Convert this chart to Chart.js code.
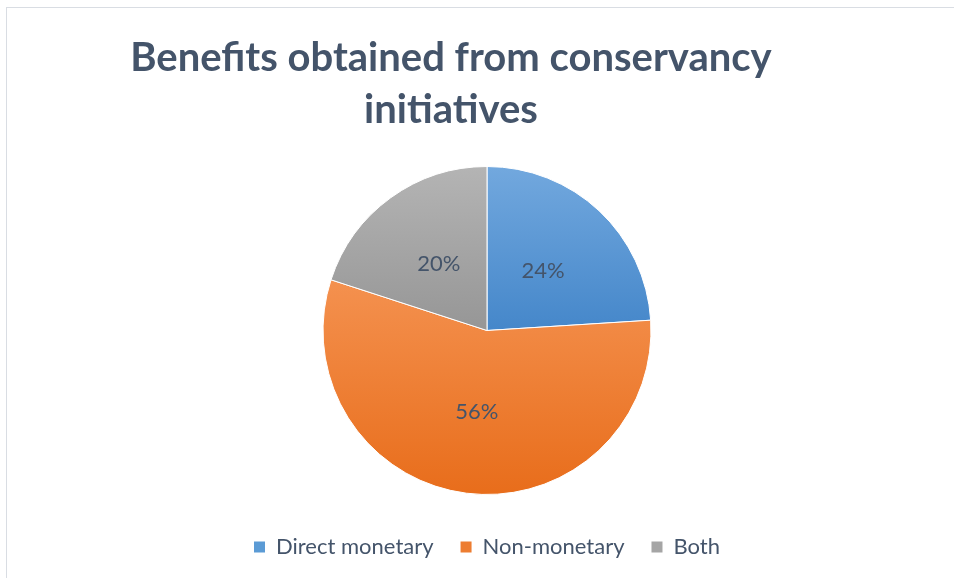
<!DOCTYPE html>
<html>
<head>
<meta charset="utf-8">
<script src="https://cdn.jsdelivr.net/npm/chart.js@4/dist/chart.umd.min.js"></script>
<style>
  html, body { margin: 0; padding: 0; background: #ffffff; }
  #wrap { position: relative; width: 954px; height: 578px; overflow: hidden; background: #fff; }
  #frame { position: absolute; left: 6px; top: 7px; width: 960px; height: 600px; border-left: 1px solid #d9dde3; border-top: 1px solid #d9dde3; box-sizing: border-box; }
  #title { position: absolute; left: 101px; width: 700px; top: 30px; text-align: center;
           font-family: Lato, "Open Sans", sans-serif; font-weight: bold; font-size: 40px; line-height: 52px; color: #44546A; }
  #c { position: absolute; left: 0; top: 0; }
</style>
</head>
<body>
<div id="wrap">
  <div id="frame"></div>
  <canvas id="c" width="954" height="578"></canvas>
  <div id="title">Benefits obtained from conservancy<br>initiatives</div>
</div>
<script>
const categories = ["Direct monetary", "Non-monetary", "Both"];
const shares = [24, 56, 20];
const labelsText = ["24%", "56%", "20%"];

const topColors = ["#72A8DE", "#F4914F", "#B4B4B4"];
const bottomColors = ["#4587CA", "#E86D1B", "#969696"];
const solidColors = ["#5B9BD5", "#ED7D31", "#A5A5A5"];
const RADIUS = 164;

function sliceGradient(ctx) {
  const chart = ctx.chart;
  const i = ctx.dataIndex;
  const area = chart.chartArea;
  if (!area || i === undefined) return solidColors[i] || "#999";
  const data = chart.data.datasets[0].data;
  const total = data.reduce((a, b) => a + b, 0);
  let before = 0;
  for (let k = 0; k < i; k++) before += data[k];
  const a0 = -Math.PI / 2 + before / total * 2 * Math.PI;
  const a1 = a0 + data[i] / total * 2 * Math.PI;
  const cy = (area.top + area.bottom) / 2;
  let ys = [cy, cy + RADIUS * Math.sin(a0), cy + RADIUS * Math.sin(a1)];
  for (let k = -1; k <= 4; k++) {
    const a = -Math.PI / 2 + k * Math.PI;
    if (a >= a0 && a <= a1) ys.push(cy + RADIUS * Math.sin(a));
  }
  const y0 = Math.min(...ys), y1 = Math.max(...ys);
  const g = chart.ctx.createLinearGradient(0, y0, 0, y1);
  g.addColorStop(0, topColors[i]);
  g.addColorStop(1, bottomColors[i]);
  return g;
}

const labelPlugin = {
  id: "sliceLabels",
  afterDatasetsDraw(chart) {
    const meta = chart.getDatasetMeta(0);
    const c = chart.ctx;
    c.save();
    c.font = "22px Lato, 'Open Sans', sans-serif";
    c.fillStyle = "#44546A";
    c.textAlign = "center";
    c.textBaseline = "middle";
    meta.data.forEach((arc, i) => {
      const p = arc.getCenterPoint();
      c.fillText(labelsText[i], p.x, p.y);
    });
    c.restore();
  }
};

new Chart(document.getElementById("c"), {
  type: "pie",
  data: {
    labels: categories,
    datasets: [{
      data: shares,
      backgroundColor: sliceGradient,
      borderColor: "#ffffff",
      borderWidth: 1,
      radius: RADIUS
    }]
  },
  options: {
    responsive: false,
    animation: false,
    layout: { padding: { top: 152, bottom: 10, left: 20, right: 0 } },
    plugins: {
      title: { display: false },
      tooltip: { enabled: false },
      legend: {
        position: "bottom",
        labels: {
          font: { family: "Lato, 'Open Sans', sans-serif", size: 22 },
          color: "#44546A",
          boxWidth: 11,
          boxHeight: 11,
          padding: 27,
          generateLabels(chart) {
            return categories.map((name, i) => ({
              text: name,
              fillStyle: solidColors[i],
              strokeStyle: solidColors[i],
              lineWidth: 0,
              fontColor: "#44546A",
              index: i,
              hidden: false
            }));
          }
        }
      }
    }
  },
  plugins: [labelPlugin]
});
</script>
</body>
</html>
